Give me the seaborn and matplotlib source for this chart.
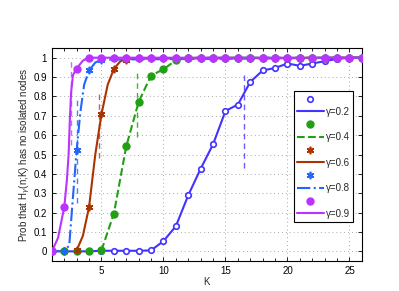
import numpy as np
import pandas as pd
import matplotlib
matplotlib.use("Agg")
import matplotlib.pyplot as plt
from matplotlib.lines import Line2D
from matplotlib.ticker import MultipleLocator, FuncFormatter
import seaborn as sns

# marker data (simulation), K = 1..26
k = list(range(1, 27))
p02 = [0, 0, 0, 0, 0.003, 0.003, 0.003, 0.003, 0.005, 0.053, 0.13, 0.29, 0.427,
       0.553, 0.725, 0.758, 0.875, 0.934, 0.947, 0.97, 0.958, 0.97, 0.982, 0.994, 1.0, 1.0]
p04 = [0, 0, 0, 0, 0.005, 0.195, 0.543, 0.772, 0.908, 0.94, 0.987] + [1.0] * 15
p06 = [0, 0, 0.005, 0.229, 0.708, 0.942, 0.99] + [1.0] * 19
p08 = [0, 0.003, 0.525, 0.934, 0.99] + [1.0] * 21
p09 = [0, 0.229, 0.944] + [1.0] * 23

# curve data (analytical)
l02_k = k
l02_v = p02
l04_k = [5, 6, 7, 8, 9, 10, 11, 12, 26]
l04_v = [0.005, 0.195, 0.543, 0.772, 0.908, 0.94, 0.987, 1.0, 1.0]
l06_k = [3, 3.5, 4, 4.5, 5, 5.5, 6, 6.5, 7, 26]
l06_v = [0.005, 0.08, 0.229, 0.5, 0.708, 0.86, 0.942, 0.98, 0.995, 1.0]
l08_k = [1, 2, 2.4, 2.7, 3, 3.3, 3.6, 4, 4.5, 5, 26]
l08_v = [0, 0.003, 0.03, 0.28, 0.525, 0.72, 0.86, 0.934, 0.975, 0.99, 1.0]
l09_k = [1, 1.5, 2, 2.2, 2.35, 2.45, 2.55, 2.7, 3, 3.5, 4, 26]
l09_v = [0, 0.07, 0.229, 0.36, 0.5, 0.68, 0.82, 0.91, 0.944, 0.985, 1.0, 1.0]

# threshold markers (vertical dashed)
thr_k = [16.47, 7.85, 4.78, 3.03, 2.58]
thr_lo = [0.43, 0.59, 0.48, 0.25, 0.55]
thr_hi = [0.925, 0.944, 0.82, 0.80, 0.99]

gammas = ["\u03b3=0.2", "\u03b3=0.4", "\u03b3=0.6", "\u03b3=0.8", "\u03b3=0.9"]
colors = ["#4433ff", "#22a015", "#aa3300", "#2266ff", "#bb33ff"]
thr_colors = ["#6a5cff", "#3cbb2a", "#a86a6a", "#4a80ff", "#cc66ff"]
styles = ["-", "--", "-", "-.", "-"]
asterisk = (6, 2, 0)
markers = ["o", "o", asterisk, asterisk, "o"]
filled = [False, True, True, True, True]
msizes = [4.0, 4.8, 5.4, 5.4, 4.8]

sns.set_theme(style="ticks")
plt.rcParams["font.family"] = ["Liberation Sans", "DejaVu Sans"]
plt.rcParams["font.size"] = 7

fig = plt.figure(figsize=(3.99, 2.91), dpi=100)
ax = fig.add_axes([0.130, 0.103, 0.777, 0.732])

lines_k = [l02_k, l04_k, l06_k, l08_k, l09_k]
lines_v = [l02_v, l04_v, l06_v, l08_v, l09_v]
marks = [p02, p04, p06, p08, p09]

for i in range(5):
    ax.vlines(thr_k[i], thr_lo[i], thr_hi[i], colors=thr_colors[i],
              linestyles=(0, (4, 3)), linewidth=1.0, zorder=1)

for i in range(5):
    sns.lineplot(x=lines_k[i], y=lines_v[i], ax=ax, color=colors[i],
                 linestyle=styles[i], linewidth=1.5, estimator=None, sort=False, zorder=2)
    mfc = colors[i] if filled[i] else "white"
    sns.lineplot(x=k, y=marks[i], ax=ax, color=colors[i], linestyle="none",
                 marker=markers[i], markersize=msizes[i], markerfacecolor=mfc,
                 markeredgecolor=colors[i], markeredgewidth=1.2,
                 estimator=None, sort=False, zorder=3)

ax.set_xlim(1, 26)
ax.set_ylim(-0.05, 1.05)
ax.xaxis.set_major_locator(MultipleLocator(5))
ax.xaxis.set_minor_locator(MultipleLocator(1))
ax.yaxis.set_major_locator(MultipleLocator(0.1))
ax.yaxis.set_major_formatter(FuncFormatter(lambda v, p: "%g" % round(v, 2)))
ax.tick_params(which="both", direction="in", top=True, right=True, labelsize=7,
               colors="black", width=0.6)
ax.tick_params(which="major", length=3)
ax.tick_params(which="minor", length=2)
ax.grid(True, which="major", linestyle=(0, (1, 3)), color="#aaaaaa", linewidth=0.7)
for s in ax.spines.values():
    s.set_color("black")
    s.set_linewidth(0.8)

ax.set_xlabel("K", fontsize=7, labelpad=1)
ax.set_ylabel("Prob that H$_{\\gamma}$(n;K) has no isolated nodes", fontsize=7, labelpad=1)

handles, labels = [], []
for i in range(5):
    mfc = colors[i] if filled[i] else "white"
    handles.append(Line2D([], [], linestyle="none", marker=markers[i], markersize=msizes[i],
                          markerfacecolor=mfc, markeredgecolor=colors[i], markeredgewidth=1.2))
    labels.append("")
    handles.append(Line2D([], [], color=colors[i], linestyle=styles[i], linewidth=1.5))
    labels.append(gammas[i])

leg = ax.legend(handles, labels, loc="upper left", bbox_to_anchor=(0.765, 0.82),
                fontsize=7, frameon=True, fancybox=False, framealpha=1,
                edgecolor="black", handlelength=2.8, handletextpad=0.2,
                labelspacing=0.28, borderpad=0.3, numpoints=1)
leg.get_frame().set_linewidth(0.8)

fig.savefig("out.png", dpi=100)
